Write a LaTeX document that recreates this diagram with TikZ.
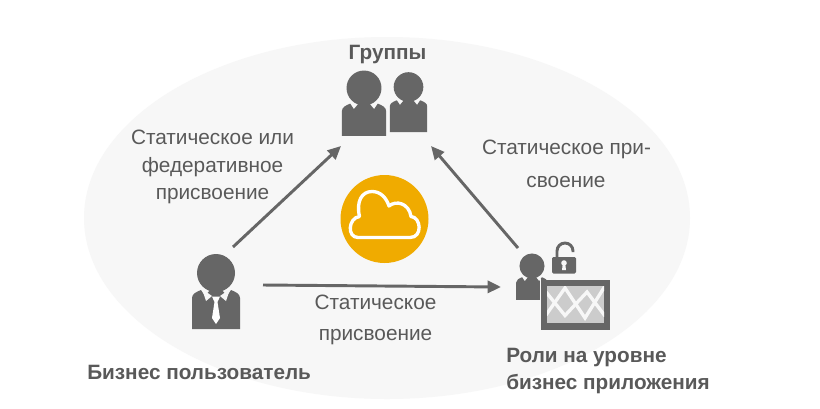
\documentclass[tikz,border=0pt]{standalone}
\usepackage{fontspec}
\setmainfont{Liberation Sans}
\usetikzlibrary{arrows.meta}
\definecolor{icon}{HTML}{666666}
\definecolor{lbl}{HTML}{595959}
\definecolor{orangec}{HTML}{F0AB00}
\definecolor{bgell}{HTML}{F7F7F7}
\tikzset{
 x=0.75pt,y=-0.75pt,
 lab/.style={text=lbl,font=\fontsize{15.6pt}{20.7pt}\selectfont,align=center,inner sep=0pt},
 labwide/.style={text=lbl,font=\fontsize{15.6pt}{23.3pt}\selectfont,align=center,inner sep=0pt},
 head/.style={text=lbl,font=\fontsize{15.55pt}{20.3pt}\selectfont\bfseries,align=left,inner sep=0pt},
 conn/.style={draw=icon,line width=2.2pt,-{Triangle[length=10pt,width=9pt]}},
 anchorpt/.style={inner sep=0pt,minimum size=0pt}
}
% #1 scale, #2 head centre, #3 body bottom (in units where the head radius is 19)
\newcommand{\personicon}[3][1]{%
 \begin{scope}[shift={(#2)},scale=#1]
  \fill[icon] (0,0) circle (19);
  \fill[icon] (-24,#3) -- (-24,25) .. controls (-24,21) and (-20,19) .. (-15,17)
    -- (-11,23) -- (-6,17) -- (6,17) -- (11,23) -- (15,17)
    .. controls (20,19) and (24,21) .. (24,25) -- (24,#3) -- cycle;
 \end{scope}}
\begin{document}
\begin{tikzpicture}
\useasboundingbox (0,0) rectangle (820,408);
\fill[white] (0,0) rectangle (820,408);
\fill[bgell] (387,218) ellipse [x radius=303,y radius=181];

% cloud badge
\node[circle,fill=orangec,minimum size=66pt,inner sep=0pt] (badge) at (384.5,219) {};
\draw[white,line width=2.5pt,line join=round]
  (358,237.5) .. controls (347,237.5) and (348,218) .. (359.5,216.5)
  .. controls (356,201) and (362,191.5) .. (372,191.5)
  .. controls (380,191.5) and (386,197) .. (389,206)
  .. controls (396,200) and (409,203) .. (411,216.5)
  .. controls (421,217) and (423,237.5) .. (410,237.5) -- cycle;

% people
\personicon{216,273}{56}
\node[anchorpt] (biz) at (216,300) {};
\personicon[0.92]{364,88}{52}
\personicon[0.78]{408.5,87}{58}
\node[anchorpt] (grp) at (386,110) {};

% business user: collar and tie
\fill[bgell] (-14+216,16+273) -- (-4+216,23+273) -- (-10+216,28+273) -- cycle;
\fill[bgell] (14+216,16+273) -- (4+216,23+273) -- (10+216,28+273) -- cycle;
\fill[white] (212,296.5) -- (220,296.5) -- (217.5,302) -- (220,318) -- (216,324) -- (212,318) -- (214.5,302) -- cycle;

% app icon
\personicon[0.66]{532,266}{51.5}
\fill[bgell] (539.5,279) rectangle (541,300);
\fill[icon] (541,280) rectangle (610,329.5);
\fill[black!20] (547,286) rectangle (604,323);
\begin{scope}
 \clip (547,286) rectangle (604,323);
 \draw[bgell,line width=2.5pt,line join=miter]
  (546,315) -- (565,288) -- (585,318) -- (605,286);
 \draw[bgell,line width=2.5pt,line join=miter]
  (546,292) -- (565,315.5) -- (587,292) -- (605,316);
\end{scope}
\node[anchorpt] (app) at (530,285) {};
% lock
\fill[icon,rounded corners=1pt] (552,257) rectangle (576,273.5);
\draw[icon,line width=2.2pt] (557,257) -- (557,251) arc[start angle=180,end angle=360,radius=8] -- (573,252);
\fill[bgell] (564,263) circle (2.8);
\fill[bgell] (562.9,263) -- (565.1,263) -- (566,270) -- (562,270) -- cycle;

% connector ends
\coordinate (a1) at (233,247); \coordinate (a2) at (341,146);
\coordinate (b1) at (518,248); \coordinate (b2) at (431,146);
\coordinate (c1) at (263,285); \coordinate (c2) at (501,287);
\draw[conn] (a1) -- (a2);
\draw[conn] (b1) -- (b2);
\draw[conn] (c1) -- (c2);

% labels
\node[head] (tg) at (387.5,55) {Группы};
\node[lab] (t1) at (212.5,167) {Статическое или\\федеративное\\присвоение};
\node[lab] (t2) at (566.5,149.5) {Статическое при-};
\node[lab] (t2b) at (566,181.5) {своение};
\node[labwide] (t3) at (375.5,320) {Статическое\\присвоение};
\node[head,anchor=west] (t4) at (87,372) {Бизнес пользователь};
\node[head,anchor=west] (t5) at (506,371) {Роли на уровне\\бизнес приложения};
\end{tikzpicture}
\end{document}
